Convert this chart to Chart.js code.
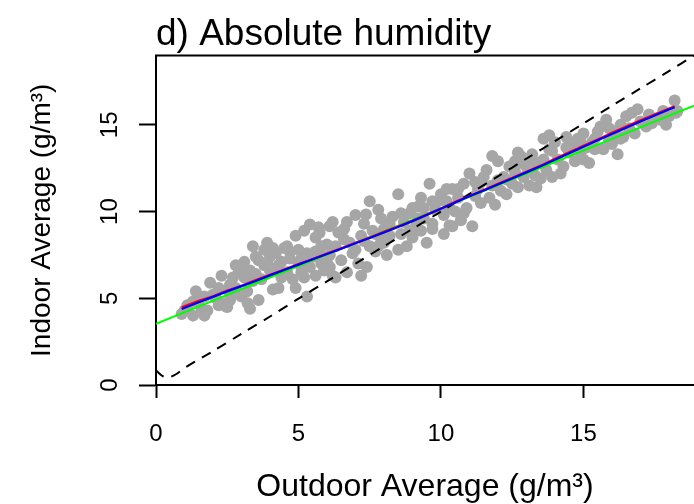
<!DOCTYPE html>
<html>
<head>
<meta charset="utf-8">
<script src="https://cdn.jsdelivr.net/npm/chart.js@4.4.1/dist/chart.umd.min.js"></script>
<style>
    html, body { margin: 0; padding: 0; background: #fff; overflow: hidden; }
    #wrap { width: 694px; height: 504px; }
</style>
</head>
<body>
<div id="wrap"><canvas id="humidityChart" width="694" height="504"></canvas></div>
<script>
// scatter: outdoor vs indoor average absolute humidity (g/m3)
const outdoorAvg = [
    0.9, 1.0, 1.1, 1.3, 1.4, 1.5, 1.6, 1.7, 1.8, 1.9, 2.0, 2.1, 2.2, 2.3, 2.4, 2.5, 1.7, 2.2, 1.29, 2.46,
    2.6, 2.7, 2.8, 2.9, 3.0, 3.1, 3.2, 3.3, 3.4, 3.4, 2.6, 3.0, 3.5, 3.6, 3.6, 3.7, 3.8, 3.9, 4.0, 4.0,
    4.1, 4.2, 4.3, 4.4, 4.5, 3.8, 4.2, 4.4, 3.22, 2.5,
    2.8, 3.3, 3.5, 3.9, 4.1, 4.3, 2.7, 3.1,
    4.6, 4.7, 4.8, 4.9, 5.0, 5.1, 5.2, 5.3, 5.4, 5.3, 4.6, 5.0, 5.5, 5.6, 5.7, 5.8, 5.9, 6.0, 6.1, 6.2,
    6.3, 6.4, 6.5, 5.8, 6.1, 5.4, 5.6, 4.9, 5.14, 5.74,
    4.7, 5.1, 5.2, 5.6, 5.9, 6.3, 6.0,
    6.6, 6.7, 6.8, 6.9, 7.0, 7.1, 7.2, 7.3, 7.4, 7.5, 6.7, 7.5, 7.6, 7.7, 7.8, 7.9, 8.0, 8.1, 8.2, 8.3,
    8.5, 8.5, 7.8, 8.0, 7.2, 6.2, 6.6, 7.0, 7.37, 6.09,
    7.3, 7.7, 8.2, 8.6, 8.9, 7.9,
    8.6, 8.7, 8.8, 8.9, 9.0, 9.1, 9.2, 9.3, 9.4, 9.5, 9.0, 9.6, 9.7, 9.8, 9.7, 10.0, 10.1, 10.2, 10.3, 10.4,
    10.5, 9.7, 10.1, 10.4, 10.2, 9.3,
    9.4, 9.9, 10.6, 10.3, 9.2,
    10.6, 10.7, 10.8, 10.9, 11.0, 11.1, 11.2, 11.3, 11.4, 11.5, 10.8, 11.2, 11.6, 11.7, 11.8, 11.8, 11.9, 12.0, 12.1, 12.2,
    12.3, 12.4, 12.5, 12.3,
    11.4, 12.0, 12.6, 13.1, 13.6, 13.9,
    12.6, 12.7, 12.75, 12.8, 12.9, 13.0, 13.1, 13.2, 13.3, 13.35, 13.4, 13.5, 12.7, 13.6, 13.7, 13.8, 13.9, 14.0, 14.1, 14.2,
    14.3, 14.4, 14.5, 13.8,
    14.6, 14.7, 14.8, 14.9, 15.0, 15.0, 15.1, 15.2, 15.3, 15.4, 15.5, 15.6, 15.7, 15.8, 15.9, 16.0, 16.1, 16.2, 16.3, 16.4,
    16.5,
    14.4, 14.9, 15.4, 15.9, 16.3,
    16.6, 16.7, 16.8, 16.9, 17.0, 17.2, 17.3, 17.4, 17.6, 17.7, 17.8, 17.9, 18.0, 18.2, 18.3, 18.25
];
const indoorAvg = [
    4.1, 4.3, 4.6, 4.0, 5.4, 4.9, 4.4, 4.0, 4.3, 5.9, 5.2, 5.0, 4.6, 6.3, 4.7, 5.5, 5.1, 5.6, 4.8, 4.53,
    5.8, 6.2, 5.6, 6.5, 5.1, 7.1, 5.4, 4.4, 8.0, 6.0, 4.9, 6.8, 7.4, 7.2, 4.9, 6.1, 7.8, 8.2, 7.4, 6.6,
    5.5, 6.7, 5.6, 7.1, 7.9, 6.9, 7.6, 6.2, 4.72, 4.5,
    6.9, 6.6, 6.4, 7.0, 7.9, 6.9, 5.2, 6.2,
    8.0, 7.3, 6.1, 8.6, 7.0, 6.5, 8.9, 7.6, 6.8, 5.1, 6.5, 7.8, 7.4, 8.5, 9.1, 7.0, 6.6, 8.1, 7.5, 9.4,
    6.2, 8.8, 7.2, 8.0, 6.8, 9.25, 6.3, 5.6, 6.65, 8.78,
    7.7, 7.3, 6.2, 7.7, 7.4, 8.0, 7.1,
    9.0, 6.5, 8.2, 7.6, 9.8, 7.0, 8.6, 9.3, 6.8, 8.0, 9.4, 10.6, 8.9, 7.7, 10.1, 8.4, 9.0, 7.5, 8.6, 9.7,
    11.0, 7.8, 8.0, 8.2, 6.3, 6.3, 8.4, 7.8, 9.83, 9.15,
    8.3, 8.7, 9.3, 9.9, 8.9, 9.6,
    8.7, 9.4, 8.0, 9.9, 8.5, 9.1, 10.3, 8.9, 9.6, 8.2, 10.2, 11.6, 9.3, 10.1, 9.0, 11.0, 9.8, 10.6, 9.2, 11.3,
    10.0, 10.6, 8.7, 9.15, 11.3, 10.8,
    10.2, 10.6, 11.3, 10.2, 9.6,
    10.8, 9.5, 11.6, 10.2, 12.2, 9.15, 10.9, 11.3, 10.5, 12.0, 9.9, 11.7, 12.4, 10.8, 11.5, 13.2, 10.4, 12.9, 11.2, 12.0,
    11.0, 12.6, 11.6, 11.85,
    11.7, 11.8, 12.9, 12.7, 13.0, 13.5,
    12.3, 11.4, 12.8, 13.2, 12.0, 12.6, 11.5, 13.3, 12.1, 11.4, 12.8, 11.9, 13.4, 14.2, 12.4, 13.6, 12.0, 14.0, 13.0, 12.2,
    12.6, 14.3, 13.4, 14.4,
    13.9, 12.9, 14.2, 13.4, 13.0, 14.5, 13.7, 12.8, 14.0, 14.2, 14.6, 14.9, 13.6, 15.3, 14.1, 13.9, 14.6, 13.3, 15.0, 14.3,
    15.5,
    13.7, 14.0, 13.6, 14.8, 14.2,
    14.8, 15.7, 14.5, 15.9, 15.2, 14.9, 15.6, 15.1, 15.4, 15.3, 15.8, 15.0, 15.5, 16.4, 15.8, 15.7
];

// linear fit (green)
const fitX = [0, 18.88];
const fitY = [3.53, 16.1];

// smooth fits (blue and red)
const smoothX = [0.9, 1.5, 2, 2.5, 3, 3.5, 4, 4.5, 5, 5.5, 6, 6.5, 7, 7.5, 8, 8.5, 9, 9.5,
    10, 10.5, 11, 11.5, 12, 12.5, 13, 13.5, 14, 14.5, 15, 15.5, 16, 16.5, 17, 17.5, 18, 18.2];
const smoothBlue = [4.38, 4.77, 5.08, 5.4, 5.7, 6.0, 6.32, 6.63, 6.94, 7.25, 7.55, 7.86, 8.17, 8.48, 8.79, 9.11, 9.45, 9.8,
    10.16, 10.53, 10.88, 11.22, 11.56, 11.91, 12.26, 12.62, 12.99, 13.36, 13.74, 14.11, 14.48, 14.84, 15.2, 15.54, 15.88, 16.02];
const smoothRed = [4.48, 4.85, 5.12, 5.45, 5.72, 6.05, 6.36, 6.66, 6.97, 7.27, 7.58, 7.88, 8.2, 8.5, 8.83, 9.15, 9.47, 9.83,
    10.18, 10.57, 10.9, 11.25, 11.6, 11.95, 12.3, 12.65, 13.05, 13.42, 13.8, 14.16, 14.55, 14.9, 15.27, 15.6, 15.94, 16.08];

// dashed reference curve
const refX = [0, 0.2, 0.4, 0.7, 1, 2, 3, 4, 5, 6, 7, 8, 9, 10, 11, 12, 13, 14, 15, 16, 17, 18, 18.88];
const refY = [0.85, 0.55, 0.42, 0.62, 0.98, 1.95, 2.95, 3.95, 4.98, 5.98, 7.0, 8.0, 9.0, 10.0, 11.02, 12.03, 13.05, 14.06, 15.08, 16.1, 17.1, 18.1, 19.0];

const xTicks = [0, 5, 10, 15];
const yTicks = [0, 5, 10, 15];

function toPoints(xs, ys) {
    return xs.map((x, i) => ({ x: x, y: ys[i] }));
}

// top edge of the box (right edge is cut off in the original)
const boxTop = {
    id: 'boxTop',
    afterDraw(chart) {
        const { ctx, chartArea } = chart;
        ctx.save();
        ctx.strokeStyle = '#000';
        ctx.lineWidth = 2;
        ctx.beginPath();
        ctx.moveTo(chartArea.left - 1, chartArea.top);
        ctx.lineTo(chart.width, chartArea.top);
        ctx.stroke();
        ctx.restore();
    }
};

const ctx = document.getElementById('humidityChart').getContext('2d');
new Chart(ctx, {
    type: 'scatter',
    data: {
        datasets: [
            {
                label: 'loess (blue)',
                data: toPoints(smoothX, smoothBlue),
                showLine: true,
                borderColor: '#0000ff',
                borderWidth: 2.2,
                pointRadius: 0,
                tension: 0
            },
            {
                label: 'loess (red)',
                data: toPoints(smoothX, smoothRed),
                showLine: true,
                borderColor: '#ff0000',
                borderWidth: 2.2,
                pointRadius: 0,
                tension: 0
            },
            {
                label: 'linear',
                data: toPoints(fitX, fitY),
                showLine: true,
                borderColor: '#00ff00',
                borderWidth: 2,
                pointRadius: 0
            },
            {
                label: 'reference',
                data: toPoints(refX, refY),
                showLine: true,
                borderColor: '#000000',
                borderWidth: 2,
                borderDash: [10, 8],
                pointRadius: 0,
                tension: 0.3
            },
            {
                label: 'days',
                data: toPoints(outdoorAvg, indoorAvg),
                backgroundColor: '#a6a6a6',
                borderWidth: 0,
                pointRadius: 6
            }
        ]
    },
    options: {
        responsive: false,
        animation: false,
        layout: { padding: 0, autoPadding: false },
        scales: {
            x: {
                type: 'linear',
                min: 0,
                max: 18.88,
                afterBuildTicks: axis => { axis.ticks = xTicks.map(v => ({ value: v })); },
                afterFit: axis => {
                    axis.height = 119;
                    axis.paddingLeft = 0;
                    axis.paddingRight = 0;
                },
                grid: {
                    drawOnChartArea: false,
                    drawTicks: true,
                    tickLength: 13,
                    tickColor: '#000',
                    tickWidth: 2
                },
                border: { display: true, color: '#000', width: 2 },
                ticks: {
                    color: '#000',
                    padding: 22,
                    maxRotation: 0,
                    font: { family: '"Liberation Sans", Arial, sans-serif', size: 24, lineHeight: 1.2 }
                },
                title: {
                    display: true,
                    text: 'Outdoor Average (g/m³)',
                    color: '#000',
                    font: { family: '"Liberation Sans", Arial, sans-serif', size: 32, lineHeight: 1 },
                    padding: { top: 0, bottom: 1 }
                }
            },
            y: {
                type: 'linear',
                min: 0,
                max: 19,
                afterBuildTicks: axis => { axis.ticks = yTicks.map(v => ({ value: v })); },
                afterFit: axis => { axis.width = 156; },
                grid: {
                    drawOnChartArea: false,
                    drawTicks: true,
                    tickLength: 17,
                    tickColor: '#000',
                    tickWidth: 2
                },
                border: { display: true, color: '#000', width: 2 },
                ticks: {
                    color: '#000',
                    padding: 15,
                    minRotation: 90,
                    maxRotation: 90,
                    crossAlign: 'center',
                    font: { family: '"Liberation Sans", Arial, sans-serif', size: 24, lineHeight: 1.2 }
                },
                title: {
                    display: true,
                    text: 'Indoor Average (g/m³)',
                    color: '#000',
                    font: { family: '"Liberation Sans", Arial, sans-serif', size: 28, lineHeight: 1.2 },
                    padding: { top: 25, bottom: 0 }
                }
            }
        },
        plugins: {
            legend: { display: false },
            tooltip: { enabled: false },
            title: {
                display: true,
                text: 'd) Absolute humidity',
                align: 'start',
                fullSize: false,
                color: '#000',
                font: { family: '"Liberation Sans", Arial, sans-serif', size: 37, weight: 'normal', lineHeight: 1 },
                padding: { top: 16, bottom: 2.5 }
            }
        }
    },
    plugins: [boxTop]
});
</script>
</body>
</html>
